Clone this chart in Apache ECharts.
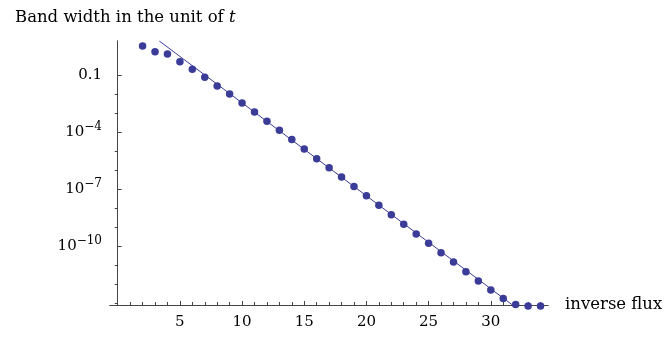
<!DOCTYPE html>
<html>
<head>
<meta charset="utf-8">
<script src="https://cdn.jsdelivr.net/npm/echarts@6/dist/echarts.min.js"></script>
<style>
  html, body { margin: 0; padding: 0; background: #fff; }
  #chart { width: 667px; height: 341px; }
</style>
</head>
<body>
<div id="chart"></div>
<script>
// inverse flux (x) and band width (y, log scale)
const fluxValues = [2, 3, 4, 5, 6, 7, 8, 9, 10, 11, 12, 13, 14, 15, 16, 17, 18,
  19, 20, 21, 22, 23, 24, 25, 26, 27, 28, 29, 30, 31, 32, 33, 34]
const bandWidths = [3.36, 1.68, 1.27, 0.50, 0.20, 0.0757, 0.0264, 0.0100, 3.36e-3,
  1.13e-3, 3.66e-4, 1.23e-4, 4.03e-5, 1.27e-5, 3.94e-6, 1.32e-6, 4.28e-7, 1.35e-7,
  4.38e-8, 1.39e-8, 4.44e-9, 1.39e-9, 4.28e-10, 1.39e-10, 4.44e-11, 1.44e-11,
  4.44e-12, 1.44e-12, 4.83e-13, 1.77e-13, 8.5e-14, 7e-14, 7e-14]

// straight fit line, visible end points
const fitX = [3.34, 31.75]
const fitY = [6.2, 7.9e-14]

const xMajorTicks = [5, 10, 15, 20, 25, 30]
const xMinorTicks = [1, 2, 3, 4, 6, 7, 8, 9, 11, 12, 13, 14, 16, 17, 18, 19, 21, 22,
  23, 24, 26, 27, 28, 29, 31, 32, 33, 34]
const yMajorTicks = [0.1, 1e-4, 1e-7, 1e-10]
const yMinorTicks = [1e-2, 1e-3, 1e-5, 1e-6, 1e-8, 1e-9, 1e-11, 1e-12, 1e-13]

const color = '#3b3b98'
const axisColor = '#444'
const font = 'DejaVu Serif'
const xMin = -0.62, xMax = 34.6
const yMin = Math.pow(10, -13.1), yMax = Math.pow(10, 0.79)

function yLabel(v) {
  if (v === 0.1) return '{b|0.1}'
  const e = Math.round(Math.log10(v))
  return '{b|10}{e|\u2212' + Math.abs(e) + '}'
}

const myChart = echarts.init(document.getElementById('chart'))

const option = {
  animation: false,
  title: {
    text: '{a|Band width in the unit of }{i|t}',
    left: 10,
    top: 4,
    textStyle: {
      rich: {
        a: { fontFamily: font, fontSize: 16.5, fontWeight: 'normal', color: '#000' },
        i: { fontFamily: font, fontSize: 16.5, fontWeight: 'normal', fontStyle: 'italic', color: '#000' }
      }
    }
  },
  grid: { left: 110, top: 41, width: 438, height: 264 },
  xAxis: [
    {
      type: 'value',
      min: xMin,
      max: xMax,
      name: 'inverse flux',
      nameLocation: 'end',
      nameGap: 17,
      nameTextStyle: { fontFamily: font, fontSize: 16.5, color: '#000' },
      axisLine: { onZero: false, lineStyle: { color: axisColor, width: 1 } },
      axisTick: { inside: true, length: 4, customValues: xMajorTicks, lineStyle: { color: axisColor } },
      axisLabel: { customValues: xMajorTicks, margin: 10, fontFamily: font, fontSize: 15, color: '#000' },
      splitLine: { show: false }
    },
    {
      type: 'value',
      min: xMin,
      max: xMax,
      position: 'bottom',
      axisLine: { onZero: false, lineStyle: { color: axisColor, width: 1 } },
      axisTick: { inside: true, length: 3, customValues: xMinorTicks, lineStyle: { color: axisColor } },
      axisLabel: { show: false },
      splitLine: { show: false }
    }
  ],
  yAxis: [
    {
      type: 'log',
      min: yMin,
      max: yMax,
      axisLine: { onZero: true, lineStyle: { color: axisColor, width: 1 } },
      axisTick: { inside: true, length: 4, customValues: yMajorTicks, lineStyle: { color: axisColor } },
      axisLabel: {
        customValues: yMajorTicks,
        margin: 8,
        formatter: yLabel,
        rich: {
          b: { fontFamily: font, fontSize: 15, color: '#000', lineHeight: 22 },
          e: { fontFamily: font, fontSize: 12, color: '#000', verticalAlign: 'top', lineHeight: 22 }
        }
      },
      splitLine: { show: false }
    },
    {
      type: 'log',
      min: yMin,
      max: yMax,
      axisLine: { onZero: true, lineStyle: { color: axisColor, width: 1 } },
      axisTick: { inside: true, length: 3, customValues: yMinorTicks, lineStyle: { color: axisColor } },
      axisLabel: { show: false },
      splitLine: { show: false }
    }
  ],
  series: [
    {
      type: 'line',
      data: fitX.map((x, i) => [x, fitY[i]]),
      showSymbol: false,
      symbol: 'none',
      lineStyle: { color: color, width: 1 },
      clip: true,
      z: 2
    },
    {
      type: 'scatter',
      data: fluxValues.map((x, i) => [x, bandWidths[i]]),
      symbol: 'circle',
      symbolSize: 7.5,
      itemStyle: { color: color, opacity: 1 },
      clip: false,
      z: 3
    }
  ]
}

myChart.setOption(option)
</script>
</body>
</html>
